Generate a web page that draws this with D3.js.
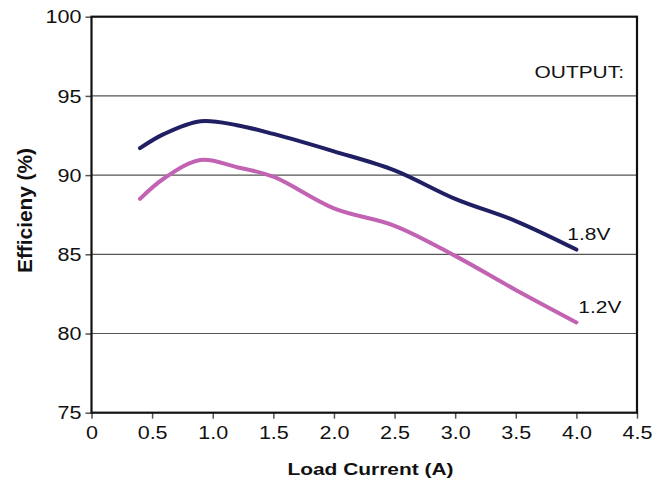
<!DOCTYPE html>
<html><head><meta charset="utf-8">
<script src="https://cdn.jsdelivr.net/npm/d3@7"></script>
<style>body{margin:0;background:#fff}text{font-family:"Liberation Sans",Arial,sans-serif}</style>
</head><body><svg id="c" width="665" height="483"></svg>
<script>
const loadCurrent = [0.4, 0.6, 0.9, 1.2, 1.5, 2.0, 2.5, 3.0, 3.5, 4.0];
const eff18 = [91.7, 92.6, 93.4, 93.15, 92.6, 91.5, 90.3, 88.5, 87.1, 85.3];
const eff12 = [88.5, 89.8, 90.95, 90.5, 89.9, 87.9, 86.8, 84.9, 82.75, 80.7];
const xTicks = [0, 0.5, 1.0, 1.5, 2.0, 2.5, 3.0, 3.5, 4.0, 4.5];
const xTickLabels = ["0", "0.5", "1.0", "1.5", "2.0", "2.5", "3.0", "3.5", "4.0", "4.5"];
const yTicks = [75, 80, 85, 90, 95, 100];
const seriesNames = ["1.8V", "1.2V"];

const svg = d3.select("#c");
const L = 91.5, R = 637, T = 16.7, B = 412.7;
const x = d3.scaleLinear().domain([0, 4.5]).range([L, R]);
const y = d3.scaleLinear().domain([75, 100]).range([B, T]);
const FS = 17.5, K = 1.23;
function stretch(sel, k) {
  sel.each(function () {
    const w = this.getComputedTextLength();
    this.setAttribute("textLength", w * k);
    this.setAttribute("lengthAdjust", "spacingAndGlyphs");
  });
}

// grid
svg.append("g").selectAll("line").data(yTicks.filter(d => d > 75 && d < 100)).join("line")
  .attr("x1", L).attr("x2", R).attr("y1", d => y(d)).attr("y2", d => y(d))
  .attr("stroke", "#555").attr("stroke-width", 1.2);

// axes
const ya = svg.append("g").attr("transform", `translate(${L},0)`)
  .call(d3.axisLeft(y).tickValues(yTicks).tickSize(6).tickPadding(4).tickFormat(d3.format("d")));
ya.select(".domain").remove();
ya.selectAll("line").attr("stroke", "#555").attr("stroke-width", 1.5);
ya.selectAll("text").attr("font-size", FS).attr("fill", "#111").attr("dy", "0.35em").call(stretch, K);

const xa = svg.append("g").attr("transform", `translate(0,${B})`)
  .call(d3.axisBottom(x).tickValues(xTicks).tickSize(6).tickPadding(5).tickFormat((d, i) => xTickLabels[i]));
xa.select(".domain").remove();
xa.selectAll("line").attr("stroke", "#555").attr("stroke-width", 1.5);
xa.selectAll("text").attr("font-size", FS).attr("fill", "#111").attr("dy", "0.85em").call(stretch, K);

// frame
svg.append("rect").attr("x", L).attr("y", T).attr("width", R - L).attr("height", B - T)
  .attr("fill", "none").attr("stroke", "#111").attr("stroke-width", 2.2);

// lines
const line = d3.line().x(d => x(d[0])).y(d => y(d[1])).curve(d3.curveCatmullRom.alpha(0.5));
const colors = ["#201f63", "#c262b2"];
[eff18, eff12].forEach((s, i) => {
  svg.append("path").datum(loadCurrent.map((c, j) => [c, s[j]]))
    .attr("d", line).attr("fill", "none").attr("stroke", colors[i])
    .attr("stroke-width", 4).attr("stroke-linecap", "round");
});

// labels
svg.append("text").attr("x", 624).attr("y", 78).attr("text-anchor", "end")
  .attr("font-size", 17).attr("fill", "#111").text("OUTPUT:").call(stretch, K);
svg.append("text").attr("x", x(4.0) - 9).attr("y", y(eff18[eff18.length - 1]) - 10)
  .attr("font-size", 17).attr("fill", "#111").text(seriesNames[0]).call(stretch, K);
svg.append("text").attr("x", x(4.0) + 2).attr("y", y(eff12[eff12.length - 1]) - 9.5)
  .attr("font-size", 17).attr("fill", "#111").text(seriesNames[1]).call(stretch, K);

svg.append("text").attr("x", 370.5).attr("y", 475).attr("text-anchor", "middle")
  .attr("font-size", 17).attr("font-weight", "bold").attr("fill", "#111").text("Load Current (A)").call(stretch, K);
svg.append("text").attr("transform", `translate(32,210.5) rotate(-90)`)
  .attr("text-anchor", "middle").attr("font-size", 21).attr("font-weight", "bold")
  .attr("fill", "#111").text("Efficieny (%)")
  .each(function () { this.setAttribute("textLength", 125); this.setAttribute("lengthAdjust", "spacingAndGlyphs"); });
</script></body></html>
